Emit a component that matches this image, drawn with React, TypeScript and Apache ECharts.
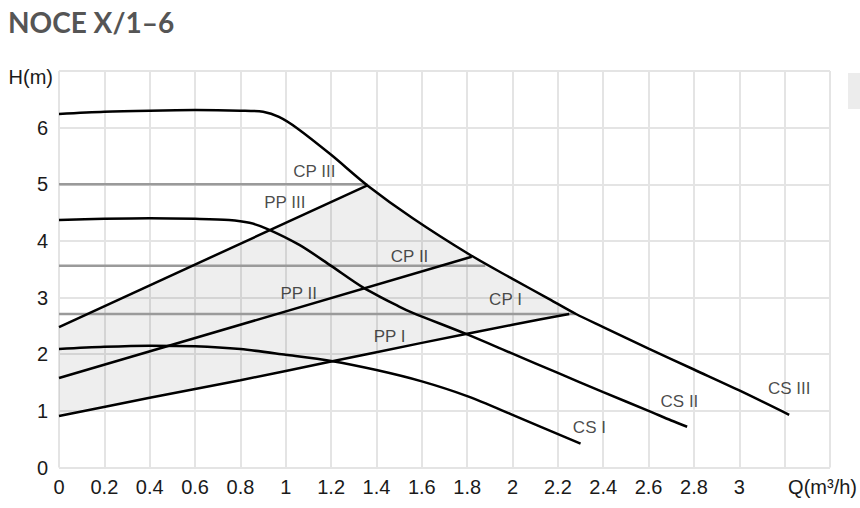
import React, { useEffect, useRef } from "react";
import * as echarts from "echarts";

// Q (m3/h), H (m)
const csIII: number[][] = [
  [0, 6.24], [0.2, 6.28], [0.4, 6.3], [0.6, 6.31], [0.8, 6.3], [0.9, 6.28],
  [0.97, 6.19], [1.05, 5.99], [1.2, 5.52], [1.36, 4.98], [1.56, 4.4],
  [1.81, 3.76], [2.0, 3.33], [2.15, 3.0], [2.28, 2.71], [2.4, 2.48],
  [2.6, 2.1], [2.8, 1.73], [3.0, 1.36], [3.22, 0.93],
];
const csII: number[][] = [
  [0, 4.37], [0.2, 4.39], [0.4, 4.4], [0.6, 4.39], [0.75, 4.37], [0.84, 4.32],
  [0.92, 4.21], [1.06, 3.93], [1.2, 3.56], [1.34, 3.18], [1.5, 2.84],
  [1.56, 2.73], [1.8, 2.35], [2.0, 2.01], [2.2, 1.67], [2.4, 1.33],
  [2.6, 1.0], [2.7, 0.83], [2.77, 0.72],
];
const csI: number[][] = [
  [0, 2.09], [0.2, 2.13], [0.4, 2.15], [0.6, 2.14], [0.8, 2.09], [1.0, 1.99],
  [1.2, 1.88], [1.4, 1.72], [1.6, 1.52], [1.8, 1.26], [2.0, 0.93], [2.3, 0.42],
];
const ppIII: number[][] = [[0, 2.48], [1.36, 4.98]];
const ppII: number[][] = [[0, 1.58], [1.82, 3.72]];
const ppI: number[][] = [[0, 0.91], [0.4, 1.23], [0.8, 1.54], [1.2, 1.87], [1.6, 2.2], [2.0, 2.52], [2.25, 2.71]];
const cpIII: number[][] = [[0, 5.0], [1.36, 5.0]];
const cpII: number[][] = [[0, 3.56], [1.88, 3.56]];
const cpI: number[][] = [[0, 2.71], [2.28, 2.71]];

const curveLabels = [
  { name: "CP III", value: [1.126, 5.22] },
  { name: "PP III", value: [0.996, 4.67] },
  { name: "CP II", value: [1.546, 3.72] },
  { name: "PP II", value: [1.057, 3.08] },
  { name: "CP I", value: [1.969, 2.96] },
  { name: "PP I", value: [1.458, 2.32] },
  { name: "CS I", value: [2.339, 0.7] },
  { name: "CS II", value: [2.736, 1.17] },
  { name: "CS III", value: [3.22, 1.4] },
];

const xLabelMax = 3;
const yLabelMax = 6;

// shaded operating region: PP I up to CS III, back along CS III to PP III top, down PP III
const shade: number[][] = [
  ...ppI,
  ...csIII.filter((p) => p[0] >= 1.36 && p[0] <= 2.28).reverse(),
  ...ppIII.slice().reverse(),
];

const AXIS_FONT = "'Liberation Sans', Arial, sans-serif";

export default function App() {
  const ref = useRef<HTMLDivElement>(null);
  useEffect(() => {
    document.body.style.margin = "0";
    const chart = echarts.init(ref.current!, null, { renderer: "svg" });
    const blackLine = (data: number[][], smooth: number) => ({
      type: "line",
      data,
      showSymbol: false,
      smooth,
      lineStyle: { color: "#000", width: 2.5 },
      z: 5,
      silent: true,
    });
    const grayLine = (data: number[][]) => ({
      type: "line",
      data,
      showSymbol: false,
      lineStyle: { color: "#9a9a9a", width: 2.5 },
      z: 3,
      silent: true,
    });
    chart.setOption({
      animation: false,
      backgroundColor: "#fff",
      grid: { left: 59, right: 30, top: 71, bottom: 40.5, containLabel: false },
      xAxis: {
        type: "value",
        min: 0,
        max: 3.4,
        interval: 0.2,
        axisLine: { show: false },
        axisTick: { show: false },
        splitLine: { show: true, lineStyle: { color: "#e4e4e4", width: 2 } },
        axisLabel: {
          margin: 9,
          fontSize: 20,
          fontFamily: AXIS_FONT,
          color: "#1a1a1a",
          formatter: (v: number) => (v > xLabelMax + 0.01 ? "" : String(Math.round(v * 10) / 10)),
        },
      },
      yAxis: {
        type: "value",
        min: 0,
        max: 7,
        interval: 1,
        axisLine: { show: false },
        axisTick: { show: false },
        splitLine: { show: true, lineStyle: { color: "#e4e4e4", width: 2 } },
        axisLabel: {
          margin: 11,
          fontSize: 20,
          fontFamily: AXIS_FONT,
          color: "#1a1a1a",
          formatter: (v: number) => (v > yLabelMax ? "" : String(v)),
        },
      },
      graphic: [
        {
          type: "text",
          left: 8,
          top: 8,
          style: {
            text: "NOCE X/1–6",
            font: "bold 28px Lato, 'Open Sans', sans-serif",
            fill: "#555555",
          },
        },
        {
          type: "text",
          x: 53,
          y: 77,
          style: {
            text: "H(m)",
            font: `20px ${AXIS_FONT}`,
            fill: "#1a1a1a",
            align: "right",
            verticalAlign: "middle",
          },
        },
        {
          type: "text",
          x: 857,
          y: 487,
          style: {
            text: "Q(m³/h)",
            font: `20px ${AXIS_FONT}`,
            fill: "#1a1a1a",
            align: "right",
            verticalAlign: "middle",
          },
        },
        {
          type: "rect",
          shape: { x: 848, y: 73, width: 14, height: 36 },
          style: { fill: "#ececec" },
        },
      ],
      series: [
        {
          type: "custom",
          data: [[0, 0]],
          silent: true,
          z: 1,
          renderItem: (_params: any, api: any) => ({
            type: "polygon",
            shape: { points: shade.map((p) => api.coord(p)) },
            style: { fill: "rgba(0,0,0,0.065)" },
          }),
        },
        grayLine(cpIII),
        grayLine(cpII),
        grayLine(cpI),
        blackLine(ppIII, 0),
        blackLine(ppII, 0),
        blackLine(ppI, 0.2),
        blackLine(csIII, 0.3),
        blackLine(csII, 0.3),
        blackLine(csI, 0.3),
        {
          type: "scatter",
          data: curveLabels,
          symbolSize: 0,
          silent: true,
          z: 6,
          label: {
            show: true,
            position: "inside",
            formatter: "{b}",
            fontSize: 17,
            fontFamily: AXIS_FONT,
            color: "#1a1a1a",
          },
        },
      ],
    });
    return () => chart.dispose();
  }, []);
  return <div ref={ref} style={{ width: 860, height: 508 }} />;
}
